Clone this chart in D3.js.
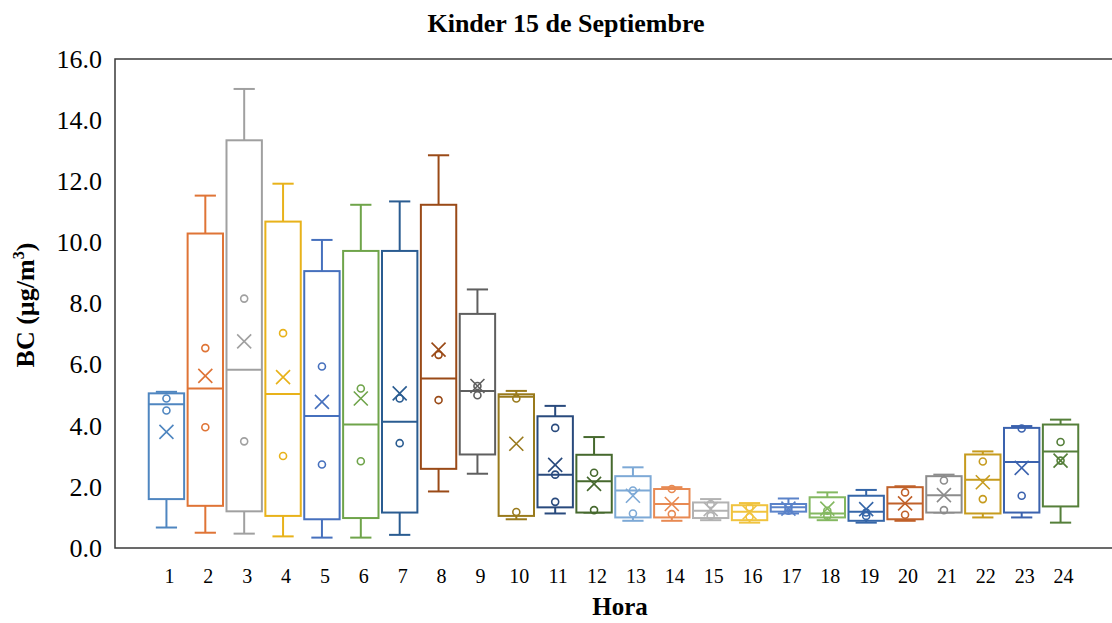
<!DOCTYPE html>
<html>
<head>
<meta charset="utf-8">
<title>Kinder 15 de Septiembre</title>
<style>
  body { margin: 0; background: #fff; }
  text { font-family: "Liberation Serif", "Times New Roman", serif; fill: #000; }
</style>
</head>
<body>
<script src="https://cdnjs.cloudflare.com/ajax/libs/d3/7.8.5/d3.min.js"></script>
<script>

// values, BC in ug/m3, one entry per hour
var hours  = ["1","2","3","4","5","6","7","8","9","10","11","12","13","14","15","16","17","18","19","20","21","22","23","24"];
var whiskerLow  = [0.67,0.50,0.47,0.38,0.34,0.34,0.43,1.85,2.43,0.94,1.13,1.16,0.89,0.89,0.91,0.83,1.13,0.91,0.83,0.89,1.16,1.00,1.00,0.83];
var q1          = [1.60,1.38,1.20,1.05,0.94,0.98,1.16,2.59,3.06,1.05,1.33,1.16,1.00,1.00,0.98,0.91,1.19,1.00,0.89,0.94,1.16,1.13,1.16,1.36];
var median      = [4.70,5.22,5.83,5.04,4.32,4.04,4.13,5.55,5.14,4.95,2.40,2.18,1.88,1.44,1.22,1.19,1.33,1.13,1.19,1.46,1.73,2.23,2.81,3.16];
var q3          = [5.06,10.29,13.34,10.68,9.06,9.72,9.72,11.23,7.66,5.03,4.31,3.05,2.35,1.93,1.49,1.40,1.44,1.66,1.71,1.99,2.35,3.06,3.93,4.04];
var whiskerHigh = [5.11,11.53,15.02,11.92,10.08,11.23,11.34,12.85,8.46,5.14,4.65,3.63,2.64,1.99,1.60,1.47,1.62,1.82,1.90,2.02,2.40,3.16,3.99,4.20];
var means       = [3.80,5.63,6.76,5.59,4.78,4.89,5.06,6.49,5.30,3.41,2.72,2.10,1.71,1.44,1.27,1.16,1.29,1.29,1.27,1.46,1.73,2.15,2.62,2.86];
var innerPoints = [[4.89,4.50],[6.54,3.95],[8.16,3.49],[7.03,3.01],[5.94,2.73],[5.22,2.84],[4.89,3.43],[6.32,4.84],
                   [5.30,5.00],[4.89,1.18],[3.93,2.40,1.51],[2.46,1.24],[1.88,1.13],[1.93,1.11],[1.44,1.05],[1.33,1.02],
                   [1.33,1.22],[1.22,1.05],[1.16,1.05],[1.82,1.09],[2.21,1.24],[2.83,1.60],[3.91,1.71],[3.47,2.86]];
var colors = ["#4f86c0","#df7436","#a0a0a0","#e8b21a","#4670bd","#6fa44a","#2a5c91","#9a4a17",
              "#5f5f5f","#997a1c","#294a7d","#46692e","#7da9d6","#e88a53","#b2b2b2","#f0c33e",
              "#5b83c9","#84b861","#3566a8","#c0612a","#8c8c8c","#c69b1e","#3b62ae","#557f3a"];
var yTicks = [0, 2, 4, 6, 8, 10, 12, 14, 16];

var W = 1112, H = 623;
var plot = {left: 115, top: 59, right: 1116, bottom: 548};

var svg = d3.select("body").append("svg")
    .attr("width", W)
    .attr("height", H);

var x = d3.scaleBand()
    .domain(hours)
    .range([147, 1080])
    .paddingInner(0.09)
    .paddingOuter(0.045);

var y = d3.scaleLinear()
    .domain([0, 16])
    .range([plot.bottom, plot.top]);

// frame
svg.append("rect")
    .attr("x", plot.left)
    .attr("y", plot.top)
    .attr("width", plot.right - plot.left)
    .attr("height", plot.bottom - plot.top)
    .attr("fill", "none")
    .attr("stroke", "#3a3a3a")
    .attr("stroke-width", 1.5);

// y axis labels (no tick lines)
var yAxis = svg.append("g")
    .attr("transform", "translate(" + plot.left + ",0)")
    .call(d3.axisLeft(y).tickValues(yTicks).tickSize(0).tickPadding(13).tickFormat(d3.format(".1f")));
yAxis.select(".domain").remove();
yAxis.selectAll("text")
    .attr("font-size", "26px")
    .attr("font-family", "Liberation Serif")
    .attr("fill", "#222");

// x axis labels
var xAxis = svg.append("g")
    .attr("transform", "translate(0," + plot.bottom + ")")
    .call(d3.axisBottom(x).tickSize(0).tickPadding(21));
xAxis.select(".domain").remove();
xAxis.selectAll("text")
    .attr("font-size", "20px")
    .attr("font-family", "Liberation Serif")
    .attr("fill", "#222")
    .attr("dx", "3px");

// boxes
var bw = x.bandwidth();
var capW = bw * 0.3;

hours.forEach(function(h, i) {
    var g = svg.append("g")
        .attr("stroke", colors[i])
        .attr("fill", "none")
        .attr("stroke-width", 2);
    var cx = x(h) + bw / 2;

    // whiskers
    g.append("line").attr("x1", cx).attr("x2", cx).attr("y1", y(q3[i])).attr("y2", y(whiskerHigh[i]));
    g.append("line").attr("x1", cx).attr("x2", cx).attr("y1", y(q1[i])).attr("y2", y(whiskerLow[i]));
    g.append("line").attr("x1", cx - capW).attr("x2", cx + capW).attr("y1", y(whiskerHigh[i])).attr("y2", y(whiskerHigh[i]));
    g.append("line").attr("x1", cx - capW).attr("x2", cx + capW).attr("y1", y(whiskerLow[i])).attr("y2", y(whiskerLow[i]));

    // box
    g.append("rect")
        .attr("x", x(h))
        .attr("y", y(q3[i]))
        .attr("width", bw)
        .attr("height", y(q1[i]) - y(q3[i]))
        .attr("fill", "#fff");

    // median
    g.append("line").attr("x1", x(h)).attr("x2", x(h) + bw).attr("y1", y(median[i])).attr("y2", y(median[i]));

    // inner points
    innerPoints[i].forEach(function(v) {
        g.append("circle").attr("cx", cx).attr("cy", y(v)).attr("r", 3.5).attr("stroke-width", 1.6);
    });

    // mean marker
    var my = y(means[i]), s = 7;
    g.append("path")
        .attr("d", "M" + (cx - s) + "," + (my - s) + "L" + (cx + s) + "," + (my + s) +
                   "M" + (cx - s) + "," + (my + s) + "L" + (cx + s) + "," + (my - s))
        .attr("stroke-width", 1.6);
});

// titles
svg.append("text")
    .attr("x", 566)
    .attr("y", 32)
    .attr("text-anchor", "middle")
    .attr("font-size", "26px")
    .attr("font-weight", "bold")
    .text("Kinder 15 de Septiembre");

svg.append("text")
    .attr("x", 620)
    .attr("y", 615)
    .attr("text-anchor", "middle")
    .attr("font-size", "25px")
    .attr("font-weight", "bold")
    .text("Hora");

var yt = svg.append("text")
    .attr("transform", "translate(34,305) rotate(-90)")
    .attr("text-anchor", "middle")
    .attr("font-size", "26px")
    .attr("font-weight", "bold");
yt.append("tspan").text("BC (µg/m");
yt.append("tspan").attr("font-size", "16px").attr("dy", "-10").text("3");
yt.append("tspan").attr("dy", "10").text(")");

</script>
</body>
</html>
